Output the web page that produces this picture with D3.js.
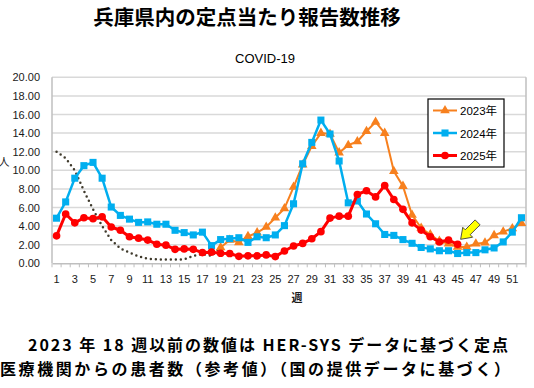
<!DOCTYPE html>
<html>
<head>
<meta charset="utf-8">
<script src="https://cdn.jsdelivr.net/npm/d3@7"></script>
<style>
  body { margin: 0; background: #fff; }
  svg { display: block; }
</style>
</head>
<body>
<div id="chart"></div>
<script>
const W = 534, H = 388;
const PLOT = { LEFT: 52, RIGHT: 526, TOP: 77.3, BOTTOM: 263.3 };

// weeks 1..52
const weeks = d3.range(1, 53);
const yTicks = [0, 2, 4, 6, 8, 10, 12, 14, 16, 18, 20];

// 2023 weeks 1-19 (HER-SYS reference, dotted)
const ref2023 = [12.0, 11.3, 10.0, 7.8, 5.8, 4.0, 2.5, 1.6, 1.15, 0.75,
  0.5, 0.42, 0.42, 0.42, 0.42, 0.8, 1.0, 0.8, 1.7];
// 2023 weeks 19-52
const v2023 = [1.7, 2.5, 2.25, 2.9, 3.3, 3.9, 4.9, 5.9, 8.2, 10.6,
  12.6, 14.0, 13.9, 11.9, 12.7, 13.1, 14.2, 15.2, 14.0, 9.9,
  8.3, 5.2, 3.8, 3.1, 2.4, 2.1, 1.75, 1.75, 2.1, 2.2,
  3.0, 3.4, 3.75, 4.3];
const v2024 = [4.85, 6.6, 9.15, 10.5, 10.85, 9.15, 6.05, 5.15, 4.75, 4.4,
  4.45, 4.2, 4.2, 3.55, 3.3, 3.05, 3.35, 1.9, 2.55, 2.65,
  2.75, 2.25, 2.85, 2.75, 3.05, 4.05, 6.4, 10.7, 13.0, 15.4,
  13.9, 11.0, 6.5, 6.7, 5.3, 4.25, 3.1, 3.0, 2.55, 2.15,
  1.7, 1.55, 1.35, 1.35, 1.05, 1.15, 1.15, 1.45, 1.65, 2.3,
  3.35, 4.9];
const v2025 = [2.95, 5.3, 4.35, 4.9, 4.8, 5.0, 3.9, 3.55, 2.85, 2.7,
  2.5, 2.05, 1.95, 1.5, 1.55, 1.5, 1.15, 1.2, 1.08, 1.05,
  0.75, 0.8, 0.8, 0.9, 0.72, 1.32, 1.86, 2.14, 2.64, 3.4,
  4.86, 5.07, 5.07, 7.4, 7.8, 7.14, 8.36, 6.86, 5.8, 4.35,
  3.57, 2.86, 2.29, 2.5, 2.04];

const series = [
  { name: "2023年", start: 19, values: v2023, color: "#F7801E", marker: "triangle", lw: 2 },
  { name: "2024年", start: 1, values: v2024, color: "#00AEEF", marker: "square", lw: 2.5 },
  { name: "2025年", start: 1, values: v2025, color: "#FF0000", marker: "circle", lw: 3 },
];

const svg = d3.select("#chart").append("svg")
  .attr("width", W).attr("height", H);

const x = d3.scaleBand().domain(weeks).range([PLOT.LEFT, PLOT.RIGHT]).padding(0);
const y = d3.scaleLinear().domain([0, 20]).range([PLOT.BOTTOM, PLOT.TOP]);
const cx = w => x(w) + x.bandwidth() / 2;

// titles
svg.append("text")
  .attr("x", 247).attr("y", 25)
  .attr("text-anchor", "middle")
  .attr("font-family", "'Noto Sans CJK JP'")
  .attr("font-weight", 700)
  .attr("font-size", 20.5)
  .attr("fill", "#000")
  .text("兵庫県内の定点当たり報告数推移");

svg.append("text")
  .attr("x", 265).attr("y", 63)
  .attr("text-anchor", "middle")
  .attr("font-family", "'Liberation Sans', Arial")
  .attr("font-size", 13)
  .attr("fill", "#000")
  .text("COVID-19");

// gridlines
svg.append("g").selectAll("line")
  .data(yTicks.filter(d => d > 0))
  .join("line")
  .attr("x1", PLOT.LEFT).attr("x2", PLOT.RIGHT)
  .attr("y1", d => y(d)).attr("y2", d => y(d))
  .attr("stroke", "#d9d9d9").attr("stroke-width", 1.5);

// plot side borders
svg.append("line")
  .attr("x1", PLOT.LEFT).attr("x2", PLOT.LEFT)
  .attr("y1", PLOT.TOP).attr("y2", PLOT.BOTTOM)
  .attr("stroke", "#bfbfbf").attr("stroke-width", 1.5);
svg.append("line")
  .attr("x1", PLOT.RIGHT).attr("x2", PLOT.RIGHT)
  .attr("y1", PLOT.TOP).attr("y2", PLOT.BOTTOM)
  .attr("stroke", "#bfbfbf").attr("stroke-width", 1.5);

// y axis labels
const yAxis = svg.append("g")
  .attr("transform", `translate(${PLOT.LEFT},0)`)
  .call(d3.axisLeft(y).tickValues(yTicks).tickSize(0).tickPadding(12)
    .tickFormat(d3.format(".2f")));
yAxis.select(".domain").remove();
yAxis.selectAll("text")
  .attr("font-family", "'Liberation Sans', Arial")
  .attr("font-size", 11)
  .attr("fill", "#1a1a1a");

svg.append("text")
  .attr("x", 4).attr("y", 166)
  .attr("text-anchor", "middle")
  .attr("font-family", "'Noto Sans CJK JP'")
  .attr("font-size", 11)
  .attr("fill", "#1a1a1a")
  .text("人");

// x axis
const xAxis = svg.append("g")
  .attr("transform", `translate(0,${PLOT.BOTTOM})`)
  .call(d3.axisBottom(x).tickValues(weeks.filter(d => d % 2 === 1)).tickSize(0).tickPadding(12));
xAxis.select(".domain").attr("stroke", "#bfbfbf").attr("stroke-width", 1.5);
xAxis.selectAll("text")
  .attr("font-family", "'Liberation Sans', Arial")
  .attr("font-size", 11)
  .attr("fill", "#1a1a1a");
// small ticks between categories
svg.append("g").selectAll("line")
  .data(weeks.concat([53]))
  .join("line")
  .attr("x1", d => d === 53 ? PLOT.RIGHT : x(d))
  .attr("x2", d => d === 53 ? PLOT.RIGHT : x(d))
  .attr("y1", PLOT.BOTTOM).attr("y2", PLOT.BOTTOM + 4)
  .attr("stroke", "#bfbfbf").attr("stroke-width", 1);

svg.append("text")
  .attr("x", 297).attr("y", 302)
  .attr("text-anchor", "middle")
  .attr("font-family", "'Noto Sans CJK JP'")
  .attr("font-weight", 700)
  .attr("font-size", 11)
  .attr("fill", "#1a1a1a")
  .text("週");

// dotted reference line
const line = d3.line().x(d => cx(d.w)).y(d => y(d.v));
svg.append("path")
  .datum(ref2023.map((v, i) => ({ w: i + 1, v })))
  .attr("d", line)
  .attr("fill", "none")
  .attr("stroke", "#3f3a2c")
  .attr("stroke-width", 2.5)
  .attr("stroke-linecap", "round")
  .attr("stroke-dasharray", "0,5");

const symbolFor = {
  triangle: d3.symbol().type(d3.symbolTriangle).size(40),
  square: d3.symbol().type(d3.symbolSquare).size(50),
  circle: d3.symbol().type(d3.symbolCircle).size(46),
};

series.forEach(s => {
  const pts = s.values.map((v, i) => ({ w: s.start + i, v }));
  const g = svg.append("g");
  g.append("path")
    .datum(pts)
    .attr("d", line)
    .attr("fill", "none")
    .attr("stroke", s.color)
    .attr("stroke-width", s.lw)
    .attr("stroke-linejoin", "round");
  g.selectAll("path.m")
    .data(pts)
    .join("path")
    .attr("class", "m")
    .attr("d", symbolFor[s.marker])
    .attr("transform", d => `translate(${cx(d.w)},${y(d.v)})`)
    .attr("fill", s.color);
});

// legend
const lg = svg.append("g").attr("transform", "translate(428,99)");
lg.append("rect")
  .attr("width", 76).attr("height", 68)
  .attr("fill", "#fff")
  .attr("stroke", "#000").attr("stroke-width", 1.2);
series.forEach((s, i) => {
  const ly = 11.5 + i * 22.5;
  lg.append("line")
    .attr("x1", 5).attr("x2", 29).attr("y1", ly).attr("y2", ly)
    .attr("stroke", s.color).attr("stroke-width", s.lw);
  lg.append("path")
    .attr("d", symbolFor[s.marker])
    .attr("transform", `translate(17,${ly})`)
    .attr("fill", s.color);
  lg.append("text")
    .attr("x", 32).attr("y", ly + 4.5)
    .attr("font-family", "'Liberation Sans', 'Noto Sans CJK JP'")
    .attr("font-size", 11.5)
    .attr("fill", "#000")
    .text(s.name);
});

// yellow arrow pointing at latest 2025 point
const last = v2025.length;
const tipX = cx(last) + 3, tipY = y(v2025[last - 1]) - 5;
svg.append("path")
  .attr("d", "M0,0 L10,-7 L10,-3.5 L24,-3.5 L24,3.5 L10,3.5 L10,7 Z")
  .attr("transform", `translate(${tipX},${tipY}) rotate(-45)`)
  .attr("fill", "#FFFF00")
  .attr("stroke", "#333")
  .attr("stroke-width", 0.8);

// note
svg.append("text")
  .attr("x", 28).attr("y", 351)
  .attr("textLength", 480).attr("lengthAdjust", "spacing")
  .attr("font-family", "'Noto Sans CJK JP'")
  .attr("font-weight", 700)
  .attr("font-size", 16)
  .attr("fill", "#000")
  .text("2023 年 18 週以前の数値は HER-SYS データに基づく定点");
svg.append("text")
  .attr("x", 0).attr("y", 374.5)
  .attr("textLength", 510).attr("lengthAdjust", "spacing")
  .attr("font-family", "'Noto Sans CJK JP'")
  .attr("font-weight", 700)
  .attr("font-size", 16)
  .attr("fill", "#000")
  .text("医療機関からの患者数（参考値）（国の提供データに基づく）");
</script>
</body>
</html>
